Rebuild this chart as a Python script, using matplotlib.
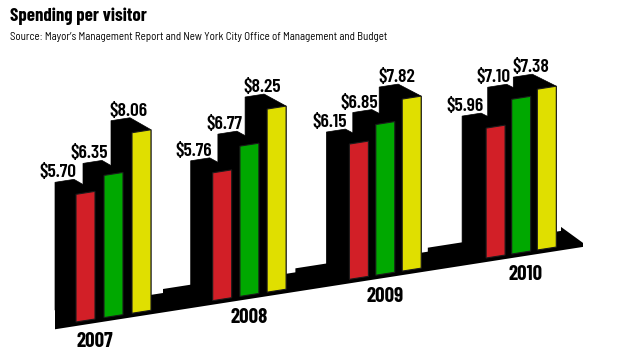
import matplotlib
matplotlib.use('Agg')
import matplotlib.pyplot as plt
from matplotlib.patches import Polygon

# --- data ---
years = ['2007', '2008', '2009', '2010']
red_vals = [5.70, 5.76, 6.15, 5.96]
green_vals = [6.35, 6.77, 6.85, 7.10]
yellow_vals = [8.06, 8.25, 7.82, 7.38]

series = [red_vals, green_vals, yellow_vals]
colors = ['#d21f27', '#00a800', '#e0df00']

COND = ['Barlow Condensed', 'DejaVu Sans']
SEMI = ['Barlow Semi Condensed', 'DejaVu Sans']

# --- fake perspective (pixel space, y down) ---
SLOPE = -0.156


def base(x):
    return 322 + SLOPE * (x - 76)


fig = plt.figure(figsize=(6.2, 3.62), dpi=100)
ax = fig.add_axes([0, 0, 1, 1])
ax.set_xlim(0, 620)
ax.set_ylim(362, 0)
ax.axis('off')

# floor slab
fx0, fx1 = 55, 583
floor = [(fx0, base(fx0) + 4), (fx1, base(fx1) + 4), (fx1, base(fx1)),
         (fx1 - 22, base(fx1) - 16), (fx1 - 22, base(fx1) - 12),
         (fx0, base(fx0 + 22) - 12)]
ax.add_patch(Polygon(floor, closed=True, facecolor='black', edgecolor='none'))

label_dx = [-6.5, -3.5, 8]
year_dx = [-19, 0, 0, 4]

for g, year in enumerate(years):
    x_start = 76 + 136.7 * g
    pitch = 28 - 0.8 * g
    w = 19
    k = 22.4 - 0.2 * g
    dx, dy = -21 - g, -12

    # small raised step in the floor between this group and the next
    if g < len(years) - 1:
        xn = x_start + 2 * pitch + w + 12 - 2.7 * g
        xe = 76 + 136.7 * (g + 1)
        step = [(xn, base(xn)), (xn, base(xn + 22) - 16), (xe, base(xe + 22) - 16), (xe, base(xe))]
        ax.add_patch(Polygon(step, closed=True, facecolor='black', edgecolor='none'))

    # right to left so nearer side walls are hidden correctly
    for b in [2, 1, 0]:
        v = series[b][g]
        h = v * k
        x0 = x_start + b * pitch
        x1 = x0 + w
        y0, y1 = base(x0), base(x1)
        hull = [(x0, y0), (x0 + dx, y0 + dy), (x0 + dx, y0 + dy - h),
                (x1 + dx, y1 + dy - h), (x1, y1 - h), (x1, y1)]
        ax.add_patch(Polygon(hull, closed=True, facecolor='black', edgecolor='black', lw=0.5))
        face = [(x0, y0), (x1, y1), (x1, y1 - h), (x0, y0 - h)]
        ax.add_patch(Polygon(face, closed=True, facecolor=colors[b],
                             edgecolor='#1a1a1a', lw=0.8))
        # value label over the back top
        cx = x0 + dx + w / 2
        cy = (y0 + y1) / 2 + dy - h
        ax.text(cx + label_dx[b], cy - 3.5, f'${v:.2f}', ha='center', va='baseline',
                fontsize=14, fontweight='semibold', family=COND, color='black')
    gx = x_start + pitch + w / 2 + year_dx[g]
    ax.text(gx, base(gx) + 28, year, ha='center', va='baseline',
            fontsize=15, fontweight='bold', family=COND, color='black')

fig.text(10 / 620, 1 - 21 / 362, 'Spending per visitor', ha='left', va='baseline',
         fontsize=13.5, fontweight='bold', family=COND)
fig.text(10 / 620, 1 - 40 / 362,
         'Source: Mayor\u2019s Management Report and New York City Office of Management and Budget',
         ha='left', va='baseline', fontsize=7.9, family=SEMI)

fig.savefig('out.png', dpi=100)
